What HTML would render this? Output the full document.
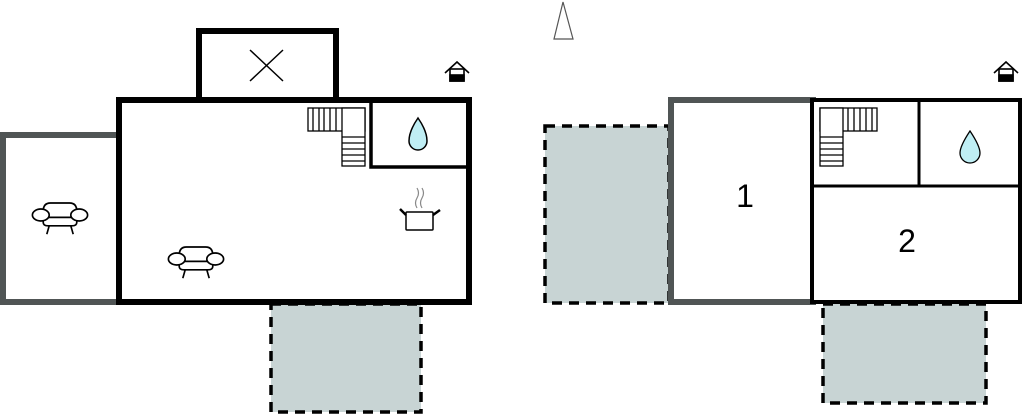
<!DOCTYPE html>
<html><head><style>html,body{margin:0;padding:0;background:#fff;}svg{display:block}</style></head>
<body>
<svg width="1024" height="415" viewBox="0 0 1024 415" xmlns="http://www.w3.org/2000/svg">
<defs>
<g id="sofa" fill="#fff" stroke="#000" stroke-width="1.4">
  <path d="M-14,-3 Q-14,-10 -8,-10 H8 Q14,-10 14,-3 V6 Q14,9 10,9 H-10 Q-14,9 -14,6 Z"/>
  <line x1="-14" y1="2" x2="14" y2="2"/>
  <ellipse cx="-16" cy="0" rx="7" ry="5"/>
  <ellipse cx="16" cy="0" rx="7" ry="5"/>
  <line x1="-9" y1="9" x2="-11" y2="16"/><line x1="9" y1="9" x2="11" y2="16"/>
</g>
<g id="home" fill="#fff" stroke="#000" stroke-width="1.6">
  <polyline points="-12,0 0,-11 12,0" fill="none"/>
  <rect x="-7" y="-4" width="14" height="12"/>
  <rect x="-7" y="2" width="14" height="6" fill="#000"/>
</g>
</defs>

<!-- LEFT PLAN -->
<rect x="271" y="304" width="150" height="108" fill="#c8d4d4" stroke="#000" stroke-width="3.5" stroke-dasharray="10,7"/>
<rect x="3" y="135" width="116" height="167" fill="#fff" stroke="#505555" stroke-width="6"/>
<rect x="199" y="31" width="137" height="69" fill="#fff" stroke="#000" stroke-width="6"/>
<line x1="250" y1="50" x2="283" y2="81" stroke="#000" stroke-width="1.5"/>
<line x1="283" y1="50" x2="250" y2="81" stroke="#000" stroke-width="1.5"/>
<rect x="119" y="100" width="350" height="202" fill="#fff" stroke="#000" stroke-width="6"/>
<polyline points="371,100 371,167 469,167" fill="none" stroke="#000" stroke-width="3.5"/>
<g fill="#fff" stroke="#000" stroke-width="1.3">
<rect x="308" y="108" width="57" height="23"/>
<rect x="342" y="108" width="23" height="58"/>
<line x1="313" y1="108" x2="313" y2="131"/><line x1="319" y1="108" x2="319" y2="131"/><line x1="324" y1="108" x2="324" y2="131"/><line x1="330" y1="108" x2="330" y2="131"/><line x1="336" y1="108" x2="336" y2="131"/>
<line x1="342" y1="137" x2="365" y2="137"/><line x1="342" y1="143" x2="365" y2="143"/><line x1="342" y1="149" x2="365" y2="149"/><line x1="342" y1="155" x2="365" y2="155"/><line x1="342" y1="161" x2="365" y2="161"/>
</g>
<path d="M418,118 Q409,131 409,141 A9,9 0 0 0 427,141 Q427,131 418,118 Z" fill="#bfeef4" stroke="#000" stroke-width="1.5"/>
<g stroke="#000" stroke-width="1.5" fill="#fff">
<rect x="406" y="212" width="27" height="18" rx="1"/>
<line x1="400" y1="209" x2="406" y2="215" stroke-width="2.5"/>
<line x1="433" y1="215" x2="440" y2="210" stroke-width="2.5"/>
<path d="M417,208 q-3,-5 0,-10 q3,-5 0,-10 M422,208 q-3,-5 0,-10 q3,-5 0,-10" fill="none" stroke="#888" stroke-width="1.2"/>
</g>
<g transform="translate(60,215) scale(1.2)"><use href="#sofa"/></g>
<g transform="translate(196,259) scale(1.2)"><use href="#sofa"/></g>
<use href="#home" x="457" y="73"/>

<polygon points="563,2 554,39 573,39" fill="#fff" stroke="#555" stroke-width="1.2"/>

<!-- RIGHT PLAN -->
<rect x="545" y="126" width="124" height="177" fill="#c8d4d4" stroke="#000" stroke-width="3.5" stroke-dasharray="10,7"/>
<rect x="823" y="304" width="163" height="99" fill="#c8d4d4" stroke="#000" stroke-width="3.5" stroke-dasharray="10,7"/>
<rect x="671" y="100" width="142" height="202" fill="#fff" stroke="#505555" stroke-width="6"/>
<rect x="812" y="100" width="208" height="202" fill="#fff" stroke="#000" stroke-width="4"/>
<line x1="812" y1="186" x2="1020" y2="186" stroke="#000" stroke-width="3"/>
<line x1="919" y1="100" x2="919" y2="186" stroke="#000" stroke-width="3"/>
<g fill="#fff" stroke="#000" stroke-width="1.3">
<rect x="820" y="108" width="57" height="23"/>
<rect x="820" y="108" width="23" height="58"/>
<line x1="848" y1="108" x2="848" y2="131"/><line x1="854" y1="108" x2="854" y2="131"/><line x1="860" y1="108" x2="860" y2="131"/><line x1="866" y1="108" x2="866" y2="131"/><line x1="872" y1="108" x2="872" y2="131"/>
<line x1="820" y1="137" x2="843" y2="137"/><line x1="820" y1="143" x2="843" y2="143"/><line x1="820" y1="149" x2="843" y2="149"/><line x1="820" y1="155" x2="843" y2="155"/><line x1="820" y1="161" x2="843" y2="161"/>
</g>
<path d="M970,131 Q960,146 960,153 A10,10 0 0 0 980,153 Q980,146 970,131 Z" fill="#bfeef4" stroke="#000" stroke-width="1.3"/>
<text x="745" y="207" font-family="Liberation Sans, sans-serif" font-size="32" text-anchor="middle" fill="#000">1</text>
<text x="907" y="252" font-family="Liberation Sans, sans-serif" font-size="32" text-anchor="middle" fill="#000">2</text>
<use href="#home" x="1006" y="73"/>
</svg>
</body></html>
